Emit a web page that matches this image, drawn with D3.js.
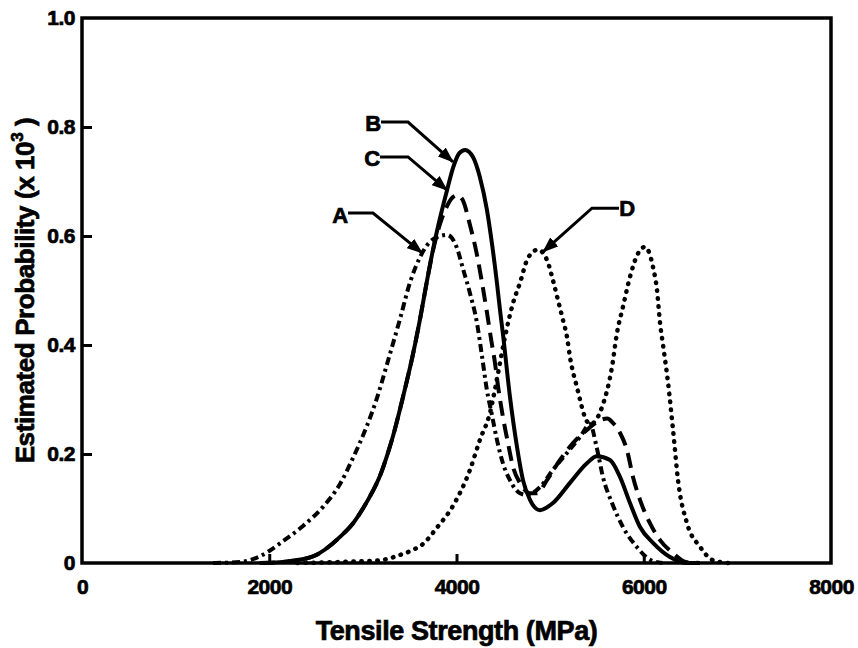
<!DOCTYPE html>
<html lang="en">
<head>
  <meta charset="UTF-8">
  <title>Tensile strength distributions</title>
  <style type="text/css">
    body{
      margin: 0;
      background: #fff;
      font-family: "Liberation Sans", Arial, sans-serif;
    }
    .axis text{
      font-size: 21px;
      font-weight: bold;
      fill: #000;
      stroke: #000;
      stroke-width: 0.7px;
      letter-spacing: -0.5px;
    }
    .axis line{
      stroke: #000;
      stroke-width: 3px;
    }
    .label{
      font-weight: bold;
      fill: #000;
      stroke: #000;
      stroke-width: 0.7px;
      letter-spacing: -0.4px;
    }
    .curve{
      fill: none;
      stroke: #000;
    }
  </style>
  <script src="https://cdn.jsdelivr.net/npm/d3@7"></script>
</head>
<body>
<script type="text/javascript">
  // curve A (dash-dot)
  var aX = [1400, 1700, 1869, 2000, 2115, 2360, 2574, 2756, 2895, 3044, 3151, 3258, 3397, 3504, 3610, 3750, 3899, 4005, 4069, 4144, 4219, 4272, 4325, 4378, 4432, 4496, 4571, 4678, 4750, 4891, 5030, 5180, 5319, 5425, 5500, 5564, 5661, 5778, 5928, 6066, 6200];
  var aY = [0, 0.002, 0.01, 0.022, 0.036, 0.068, 0.103, 0.145, 0.193, 0.252, 0.303, 0.365, 0.448, 0.515, 0.561, 0.594, 0.602, 0.578, 0.54, 0.495, 0.44, 0.38, 0.317, 0.272, 0.226, 0.183, 0.152, 0.128, 0.125, 0.139, 0.171, 0.202, 0.231, 0.255, 0.21, 0.158, 0.11, 0.066, 0.029, 0.006, 0];

  // curve B (solid)
  var bX = [1900, 2200, 2467, 2756, 2900, 3001, 3100, 3183, 3260, 3322, 3429, 3535, 3610, 3685, 3750, 3824, 3899, 3963, 4030, 4091, 4176, 4250, 4325, 4378, 4432, 4464, 4496, 4571, 4646, 4710, 4785, 4891, 5030, 5212, 5393, 5500, 5640, 5746, 5853, 5960, 6099, 6280, 6460, 6600];
  var bY = [0, 0.003, 0.012, 0.048, 0.074, 0.1, 0.13, 0.16, 0.198, 0.233, 0.305, 0.383, 0.447, 0.518, 0.576, 0.633, 0.684, 0.725, 0.752, 0.758, 0.745, 0.708, 0.648, 0.587, 0.514, 0.465, 0.42, 0.305, 0.213, 0.152, 0.116, 0.097, 0.11, 0.147, 0.183, 0.196, 0.189, 0.158, 0.11, 0.066, 0.037, 0.011, 0, 0];

  // curve C (dashed)
  var cX = [1900, 2200, 2467, 2756, 2900, 3001, 3100, 3183, 3260, 3322, 3429, 3535, 3610, 3685, 3750, 3824, 3899, 3960, 4005, 4060, 4144, 4219, 4272, 4325, 4370, 4411, 4443, 4496, 4550, 4604, 4678, 4785, 4860, 4966, 5105, 5244, 5393, 5532, 5610, 5671, 5746, 5821, 5885, 5960, 6066, 6174, 6313, 6450, 6600];
  var cY = [0, 0.003, 0.012, 0.048, 0.074, 0.1, 0.13, 0.16, 0.198, 0.233, 0.305, 0.383, 0.447, 0.518, 0.574, 0.622, 0.655, 0.671, 0.675, 0.668, 0.62, 0.565, 0.515, 0.46, 0.41, 0.367, 0.325, 0.268, 0.22, 0.176, 0.147, 0.128, 0.128, 0.152, 0.189, 0.22, 0.244, 0.262, 0.265, 0.257, 0.239, 0.207, 0.158, 0.116, 0.073, 0.042, 0.018, 0.002, 0];

  // curve D (dotted)
  var dX = [2300, 2800, 3183, 3400, 3535, 3643, 3792, 3963, 4144, 4250, 4357, 4440, 4518, 4604, 4678, 4764, 4870, 4966, 5030, 5083, 5137, 5180, 5212, 5286, 5393, 5430, 5480, 5554, 5661, 5714, 5778, 5853, 5930, 6013, 6099, 6142, 6174, 6206, 6260, 6313, 6366, 6462, 6600, 6740, 6900];
  var dY = [0, 0.002, 0.005, 0.015, 0.024, 0.035, 0.065, 0.105, 0.171, 0.226, 0.275, 0.345, 0.415, 0.477, 0.514, 0.56, 0.575, 0.556, 0.519, 0.483, 0.446, 0.415, 0.378, 0.323, 0.26, 0.255, 0.26, 0.286, 0.36, 0.422, 0.47, 0.525, 0.565, 0.58, 0.543, 0.5, 0.44, 0.4, 0.33, 0.244, 0.152, 0.073, 0.03, 0.005, 0];

  // axis ticks
  var xTicks = [0, 2000, 4000, 6000, 8000];
  var yTicks = [0, 0.2, 0.4, 0.6, 0.8, 1.0];

  // callouts: label, arrow tip, elbow and label point (data units)
  var noteLabels = ['A', 'B', 'C', 'D'];
  var noteTipX = [3632, 3962, 3899, 4924];
  var noteTipY = [0.569, 0.736, 0.684, 0.571];
  var noteElbowX = [3108, 3482, 3482, 5447];
  var noteElbowY = [0.642, 0.809, 0.745, 0.651];
  var noteTextX = [2756, 3108, 3097, 5821];
  var noteTextY = [0.639, 0.807, 0.743, 0.651];

  var margin = {top: 18, right: 27, bottom: 85, left: 82};
  var width = 858 - margin.left - margin.right;
  var height = 648 - margin.top - margin.bottom;

  var svg = d3.select('body')
    .append('svg')
    .attr('width', 858)
    .attr('height', 648)
  .append('g')
    .attr('transform', 'translate(' + margin.left + ',' + margin.top + ')');

  var xScale = d3.scaleLinear().domain([0, 8000]).range([0, width]);
  var yScale = d3.scaleLinear().domain([0, 1]).range([height, 0]);

  var xAxis = d3.axisBottom(xScale)
    .tickValues(xTicks)
    .tickSizeInner(-9)
    .tickSizeOuter(0)
    .tickPadding(16)
    .tickFormat(d3.format('d'));

  var yAxis = d3.axisLeft(yScale)
    .tickValues(yTicks)
    .tickSizeInner(-10)
    .tickSizeOuter(0)
    .tickPadding(7)
    .tickFormat(function(d){ return d === 0 ? '0' : d3.format('.1f')(d); });

  svg.append('g')
    .attr('class', 'x axis')
    .attr('transform', 'translate(0,' + height + ')')
    .call(xAxis)
    .call(function(g){ g.select('.domain').remove(); });

  svg.append('g')
    .attr('class', 'y axis')
    .call(yAxis)
    .call(function(g){ g.select('.domain').remove(); });

  // no ticks drawn at the frame corners
  svg.selectAll('.x.axis .tick line').filter(function(d){ return d === 0 || d === 8000; }).remove();
  svg.selectAll('.y.axis .tick line').filter(function(d){ return d === 0 || d === 1; }).remove();

  var line = d3.line()
    .x(function(d){ return xScale(d[0]); })
    .y(function(d){ return yScale(d[1]); })
    .curve(d3.curveMonotoneX);

  function pairs(xs, ys){
    return xs.map(function(x, i){ return [x, ys[i]]; });
  }

  svg.append('path')
    .datum(pairs(dX, dY))
    .attr('class', 'curve')
    .attr('d', line)
    .attr('stroke-width', 4.5)
    .attr('stroke-linecap', 'round')
    .attr('stroke-dasharray', '0.5,7.5');

  svg.append('path')
    .datum(pairs(aX, aY))
    .attr('class', 'curve')
    .attr('d', line)
    .attr('stroke-width', 4)
    .attr('stroke-dasharray', '8,4,3,4');

  svg.append('path')
    .datum(pairs(cX, cY))
    .attr('class', 'curve')
    .attr('d', line)
    .attr('stroke-width', 4)
    .attr('stroke-dasharray', '15,8');

  svg.append('path')
    .datum(pairs(bX, bY))
    .attr('class', 'curve')
    .attr('d', line)
    .attr('stroke-width', 4);

  // frame
  svg.append('rect')
    .attr('x', 0)
    .attr('y', 0)
    .attr('width', width)
    .attr('height', height)
    .attr('fill', 'none')
    .attr('stroke', '#000')
    .attr('stroke-width', 3.5);

  // callouts
  svg.append('defs').append('marker')
    .attr('id', 'head')
    .attr('markerUnits', 'userSpaceOnUse')
    .attr('viewBox', '0 0 16 12')
    .attr('refX', 15)
    .attr('refY', 6)
    .attr('markerWidth', 16)
    .attr('markerHeight', 12)
    .attr('orient', 'auto')
  .append('path')
    .attr('d', 'M0,0 L16,6 L0,12 Z')
    .attr('fill', '#000');

  noteLabels.forEach(function(lab, i){
    var tx = xScale(noteTextX[i]), ty = yScale(noteTextY[i]);
    var ex = xScale(noteElbowX[i]), ey = yScale(noteElbowY[i]);
    var px = xScale(noteTipX[i]), py = yScale(noteTipY[i]);
    var dir = ex > tx ? 1 : -1;

    svg.append('path')
      .attr('d', 'M' + (tx + dir * 8) + ',' + ey + 'L' + ex + ',' + ey + 'L' + px + ',' + py)
      .attr('fill', 'none')
      .attr('stroke', '#000')
      .attr('stroke-width', 3)
      .attr('marker-end', 'url(#head)');

    svg.append('text')
      .attr('class', 'label')
      .attr('x', tx)
      .attr('y', ty)
      .attr('dy', '0.36em')
      .attr('text-anchor', 'middle')
      .style('font-size', '22px')
      .text(lab);
  });

  // axis titles
  svg.append('text')
    .attr('class', 'label')
    .attr('x', xScale(4000))
    .attr('y', height + 77)
    .attr('text-anchor', 'middle')
    .style('font-size', '27px')
    .text('Tensile Strength (MPa)');

  var ytitle = svg.append('text')
    .attr('class', 'label')
    .attr('transform', 'translate(-57,' + yScale(0.5) + ') rotate(-90)')
    .attr('text-anchor', 'middle')
    .attr('dy', '0.36em')
    .style('font-size', '26px');
  ytitle.append('tspan').text('Estimated Probability (x 10');
  ytitle.append('tspan').attr('dy', -11).style('font-size', '17px').text('3');
  ytitle.append('tspan').attr('dy', 11).text(' )');
</script>
</body>
</html>
